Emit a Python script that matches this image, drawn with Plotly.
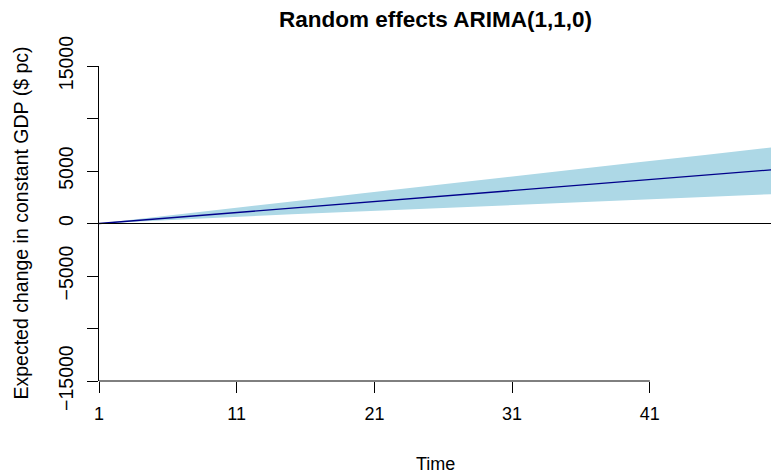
import plotly.graph_objects as go

# ---- data ----
time = [1, 5, 10, 15, 20, 25, 30, 35, 40, 45, 50]
mean_change = [0, 420, 940, 1460, 1990, 2510, 3030, 3560, 4080, 4600, 5130]
upper_band = [0, 580, 1320, 2100, 2850, 3600, 4330, 5050, 5800, 6520, 7260]
lower_band = [0, 270, 570, 870, 1140, 1420, 1700, 1990, 2280, 2550, 2800]

x_tick_vals = [1, 11, 21, 31, 41]
y_tick_vals = [-15000, -10000, -5000, 0, 5000, 10000, 15000]
y_tick_text = ["\u221215000", "", "\u22125000", "0", "5000", "", "15000"]

FONT = "Liberation Sans, Arial, Helvetica, sans-serif"

fig = go.Figure()

fig.add_trace(go.Scatter(
    x=time, y=lower_band, mode="lines", line=dict(width=0, color="#ADD8E6"),
    hoverinfo="skip", showlegend=False))
fig.add_trace(go.Scatter(
    x=time, y=upper_band, mode="lines", line=dict(width=0, color="#ADD8E6"),
    fill="tonexty", fillcolor="#ADD8E6", hoverinfo="skip", showlegend=False))
fig.add_trace(go.Scatter(
    x=time, y=mean_change, mode="lines", line=dict(width=1.4, color="#00008B"),
    showlegend=False))

# zero reference line across the plot
fig.add_shape(type="line", xref="paper", x0=0, x1=1, yref="y", y0=0, y1=0,
              line=dict(color="black", width=1))
# R-style x axis line spanning only the tick range
fig.add_shape(type="line", xref="x", x0=x_tick_vals[0], x1=x_tick_vals[-1],
              yref="paper", y0=0, y1=0, line=dict(color="black", width=1))

fig.update_layout(
    width=771, height=473,
    margin=dict(l=99, r=0, t=66, b=92),
    paper_bgcolor="white", plot_bgcolor="white",
    font=dict(family=FONT, size=18, color="black"),
    showlegend=False,
    xaxis=dict(
        range=[1, 49.8], showgrid=False, zeroline=False, showline=False,
        tickmode="array", tickvals=x_tick_vals,
        ticktext=[str(v) for v in x_tick_vals],
        ticks="outside", ticklen=11, tickwidth=1, tickcolor="black",
        ticklabelstandoff=5,
        tickfont=dict(family=FONT, size=18, color="black"),
    ),
    yaxis=dict(
        range=[-15000, 15000], showgrid=False, zeroline=False,
        showline=True, linecolor="black", linewidth=1,
        tickmode="array", tickvals=y_tick_vals, ticktext=y_tick_text,
        ticks="outside", ticklen=11, tickwidth=1, tickcolor="black",
        tickangle=-90, ticklabelstandoff=6,
        tickfont=dict(family=FONT, size=19.5, color="black"),
    ),
    annotations=[
        dict(text="<b>Random effects ARIMA(1,1,0)</b>", xref="paper", yref="paper",
             x=0.5, y=1 + (66 - 19) / 315, xanchor="center", yanchor="middle",
             showarrow=False, font=dict(family=FONT, size=22.5, color="black")),
        dict(text="Time", xref="paper", yref="paper",
             x=0.5, y=-(464 - 381) / 315, xanchor="center", yanchor="middle",
             showarrow=False, font=dict(family=FONT, size=18, color="black")),
        dict(text="Expected change in constant GDP ($ pc)", xref="paper", yref="paper",
             x=(20 - 99) / 672, y=0.5, xanchor="center", yanchor="middle",
             textangle=-90, showarrow=False,
             font=dict(family=FONT, size=19.5, color="black")),
    ],
)

fig.write_html(
    "out.html",
    config={"displayModeBar": False, "staticPlot": True},
    post_script="document.body.style.margin='0';document.body.style.overflow='hidden';",
)
